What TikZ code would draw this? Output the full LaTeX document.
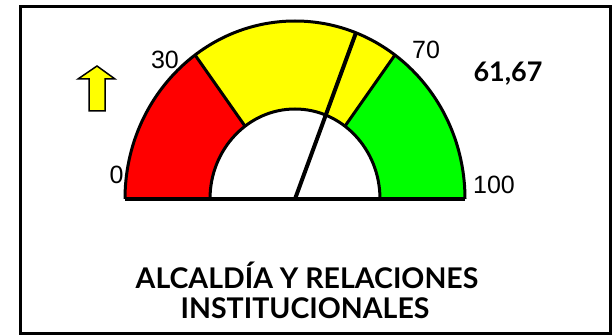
\documentclass[tikz,border=0pt]{standalone}
\usepackage{fontspec}
\setmainfont{Liberation Sans}
\newfontfamily\titlefont{Lato}
\definecolor{gred}{HTML}{FF0000}
\definecolor{gyellow}{HTML}{FFFF00}
\definecolor{ggreen}{HTML}{00FF00}
\begin{document}
\begin{tikzpicture}[x=1pt,y=1pt,
  edge/.style={line width=3pt,line join=round},
  scalelbl/.style={inner sep=0pt,font=\fontsize{25}{27}\selectfont},
  titlelbl/.style={inner sep=0pt,anchor=base,font=\titlefont\bfseries\fontsize{28.5}{30}\selectfont}]
\useasboundingbox (0,0) rectangle (613,335);
\fill[white] (0,0) rectangle (613,335);
\draw[line width=3pt] (20,2) rectangle (610,328);
\coordinate (c) at (295,136);
\begin{scope}[shift={(c)}]
  % sectors
  \fill[gred] (180:170 and 178) arc[start angle=180,end angle=126,x radius=170,y radius=178]
     -- (126:85 and 90) arc[start angle=126,end angle=180,x radius=85,y radius=90] -- cycle;
  \fill[gyellow] (126:170 and 178) arc[start angle=126,end angle=54,x radius=170,y radius=178]
     -- (54:85 and 90) arc[start angle=54,end angle=126,x radius=85,y radius=90] -- cycle;
  \fill[ggreen] (54:170 and 178) arc[start angle=54,end angle=0,x radius=170,y radius=178]
     -- (0:85 and 90) arc[start angle=0,end angle=54,x radius=85,y radius=90] -- cycle;
  % outlines
  \draw[edge] (180:170 and 178) arc[start angle=180,end angle=0,x radius=170,y radius=178];
  \draw[edge] (180:85 and 90) arc[start angle=180,end angle=0,x radius=85,y radius=90];
  \draw[edge] (126:85 and 90) -- (126:170 and 178);
  \draw[edge] (54:85 and 90) -- (54:170 and 178);
  \draw[line width=4pt] (180:170 and 178) -- (0:170 and 178);
  \coordinate (tip) at (69:170 and 178);
\end{scope}
\draw[line width=4pt] (c) -- (tip);
% arrow
\draw[fill=gyellow,line width=1.5pt,line join=miter]
  (97,269) -- (115,256) -- (105,256) -- (105,224) -- (89,224) -- (89,256) -- (78,256) -- cycle;
% labels
\node[scalelbl] (l0) at (116.5,160) {0};
\node[scalelbl] (l30) at (165,275) {30};
\node[scalelbl] (l70) at (426,285) {70};
\node[scalelbl] (l100) at (494,150) {100};
\node[inner sep=0pt,font=\titlefont\bfseries\fontsize{27}{29}\selectfont] (val) at (508,261) {61,67};
\node[titlelbl] (t1) at (307,47) {ALCALDÍA Y RELACIONES};
\node[titlelbl] (t2) at (305,17) {INSTITUCIONALES};
\end{tikzpicture}
\end{document}
